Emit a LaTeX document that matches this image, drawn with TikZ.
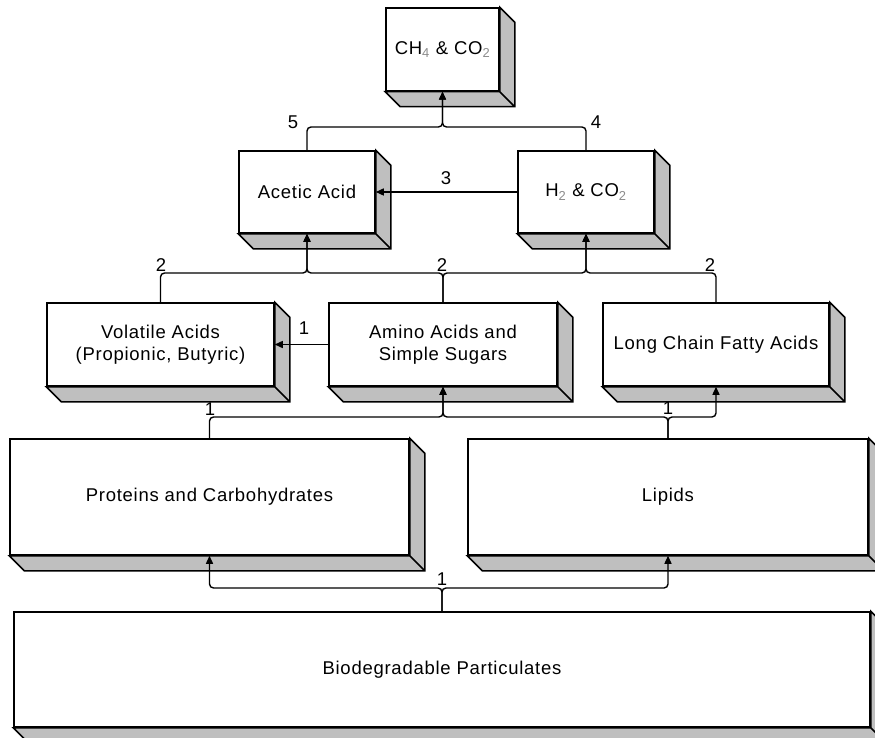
\documentclass[tikz,border=0pt]{standalone}
\usepackage{fontspec}
\setmainfont[LetterSpace=4.0]{Liberation Sans}
\usetikzlibrary{arrows.meta}

\tikzset{
  stage/.style={draw, fill=white, line width=1.5pt, inner sep=0pt, align=center, font=\fontsize{18.5}{22}\selectfont},
  slab/.style={draw, fill=black!25, line width=1.5pt},
  flow/.style={line width=1.4pt, rounded corners=4pt, -{Triangle[length=8pt,width=7pt]}},
  tag/.style={inner sep=0pt, font=\fontsize{18.5}{22}\selectfont}
}
\newcommand{\lowsub}[1]{\textsubscript{\textcolor{black!45}{#1}}}

\begin{document}
\begin{tikzpicture}[x=1pt,y=-1pt]
\useasboundingbox (0,0) rectangle (875,738);
% boxes
\node[stage, minimum width=113pt, minimum height=83pt] (ch4) at (442.5,49.5) {CH\lowsub{4} \& CO\lowsub{2}};
\node[stage, minimum width=136pt, minimum height=82pt] (acetic) at (307,192) {Acetic Acid};
\node[stage, minimum width=136pt, minimum height=82pt] (h2) at (586,192) {H\lowsub{2} \& CO\lowsub{2}};
\node[stage, minimum width=227pt, minimum height=83pt] (volatile) at (160.5,344.5) {Volatile Acids\\(Propionic, Butyric)};
\node[stage, minimum width=228pt, minimum height=83pt] (amino) at (443,344.5) {Amino Acids and\\Simple Sugars};
\node[stage, minimum width=226pt, minimum height=83pt] (lcfa) at (716,344.5) {Long Chain Fatty Acids};
\node[stage, minimum width=399pt, minimum height=116pt] (proteins) at (209.5,497) {Proteins and Carbohydrates};
\node[stage, minimum width=400pt, minimum height=116pt] (lipids) at (668,497) {Lipids};
\node[stage, minimum width=856pt, minimum height=115pt] (biopart) at (442,669.5) {Biodegradable Particulates};
% 3d sides
\foreach \n in {ch4,acetic,h2,volatile,amino,lcfa,proteins,lipids,biopart}
  \draw[slab] (\n.north east) -- ([shift={(15pt,-15pt)}]\n.north east) -- ([shift={(15pt,-15pt)}]\n.south east)
    -- ([shift={(15pt,-15pt)}]\n.south west) -- (\n.south west) -- (\n.south east) -- cycle
    (\n.south east) -- ++(15pt,-15pt);
% buses
\coordinate (bus1) at (0,127);
\coordinate (bus2) at (0,273);
\coordinate (bus3) at (0,417);
\coordinate (bus4) at (0,588);
% connectors
\draw[flow] (acetic.north) -- (acetic.north |- bus1) -| (ch4.south);
\draw[flow] (h2.north) -- (h2.north |- bus1) -| (ch4.south);
\draw[flow] (h2.west) -- (acetic.east);
\draw[flow] (volatile.north) -- (volatile.north |- bus2) -| (acetic.south);
\draw[flow] (amino.north) -- (amino.north |- bus2) -| (acetic.south);
\draw[flow] (amino.north) -- (amino.north |- bus2) -| (h2.south);
\draw[flow] (lcfa.north) -- (lcfa.north |- bus2) -| (h2.south);
\draw[flow] (amino.west) -- (volatile.east);
\draw[flow] (proteins.north) -- (proteins.north |- bus3) -| (amino.south);
\draw[flow] (lipids.north) -- (lipids.north |- bus3) -| (amino.south);
\draw[flow] (lipids.north) -- (lipids.north |- bus3) -| (lcfa.south);
\draw[flow] (biopart.north) -- (biopart.north |- bus4) -| (proteins.south);
\draw[flow] (biopart.north) -- (biopart.north |- bus4) -| (lipids.south);
% labels
\node[tag] (t5) at (293,122) {5};
\node[tag] (t4) at (596,122) {4};
\node[tag] (t3) at (446,178) {3};
\node[tag] (t2a) at (161,265) {2};
\node[tag] (t2b) at (442,265) {2};
\node[tag] (t2c) at (710,265) {2};
\node[tag] (t1a) at (304,328) {1};
\node[tag] (t1b) at (210,409) {1};
\node[tag] (t1c) at (668,408) {1};
\node[tag] (t1d) at (442,579) {1};
\end{tikzpicture}
\end{document}
